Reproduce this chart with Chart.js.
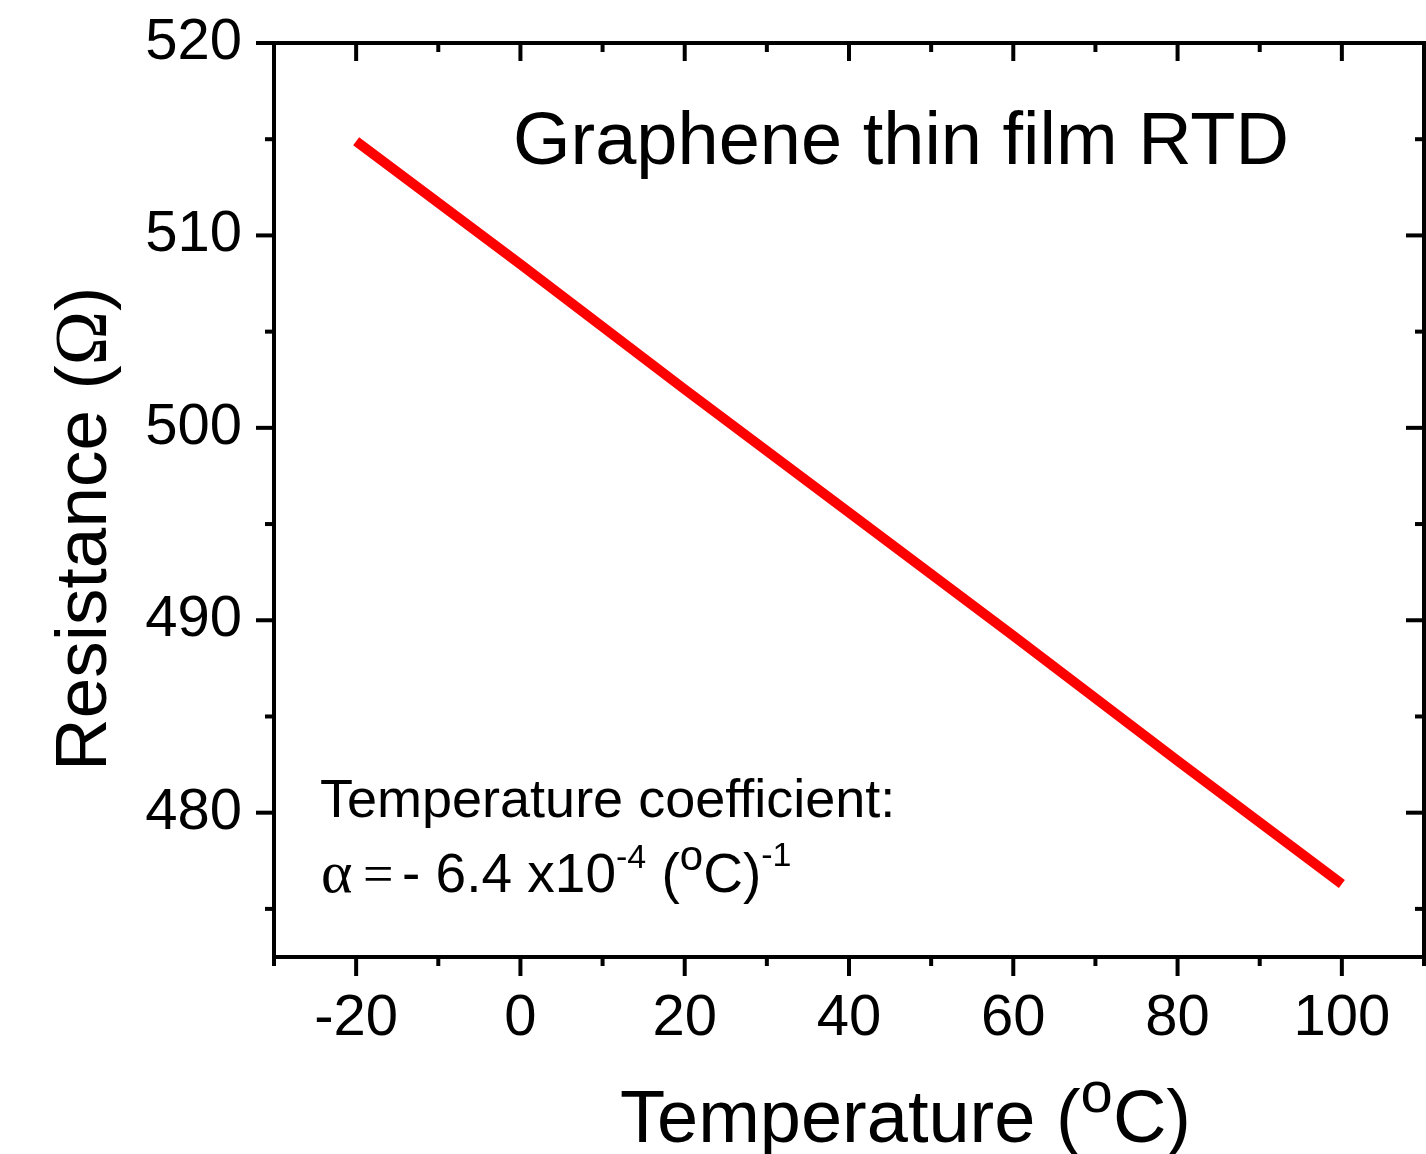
<!DOCTYPE html>
<html>
<head>
<meta charset="utf-8">
<script src="https://cdn.jsdelivr.net/npm/chart.js@4.4.0/dist/chart.umd.min.js"></script>
<style>
  html, body { margin: 0; padding: 0; background: #fff; }
  #wrap { width: 1426px; height: 1154px; }
</style>
</head>
<body>
<div id="wrap"><canvas id="rtdChart"></canvas></div>
<script>
// temperature (°C) vs resistance (Ohm)
const temperature = [-20, 0, 20, 40, 60, 80, 100];
const resistance = [514.9, 508.5, 502.0, 495.6, 489.2, 482.7, 476.3];

const xRange = [-30, 110];
const yRange = [472.5, 520];
const xMajorTicks = [-20, 0, 20, 40, 60, 80, 100];
const xMinorTicks = [-30, -10, 10, 30, 50, 70, 90, 110];
const yMajorTicks = [480, 490, 500, 510, 520];
const yMinorTicks = [475, 485, 495, 505, 515];

const SANS = '"Liberation Sans", Arial, sans-serif';
const SERIF = '"Liberation Serif", "Times New Roman", serif';

// draws a run of text pieces one after another (used for superscripts)
function drawRich(ctx, x, y, parts) {
    parts.forEach(function (p) {
        if (p.at !== undefined) x = p.at;
        ctx.font = p.font;
        ctx.fillText(p.text, x, y - (p.rise || 0));
        x += ctx.measureText(p.text).width;
    });
}

function tick(ctx, x1, y1, x2, y2) {
    ctx.beginPath();
    ctx.moveTo(x1, y1);
    ctx.lineTo(x2, y2);
    ctx.stroke();
}

const framePlugin = {
    id: 'frame',
    afterDraw(chart) {
        const ctx = chart.ctx;
        const a = chart.chartArea;
        const xs = chart.scales.x, ys = chart.scales.y;
        ctx.save();
        ctx.strokeStyle = '#000';
        ctx.lineWidth = 4;
        ctx.strokeRect(a.left, a.top, a.right - a.left, a.bottom - a.top);

        xMajorTicks.forEach(function (v) {
            const px = xs.getPixelForValue(v);
            tick(ctx, px, a.bottom, px, a.bottom + 19);
            tick(ctx, px, a.top, px, a.top + 18);
        });
        xMinorTicks.forEach(function (v) {
            const px = xs.getPixelForValue(v);
            tick(ctx, px, a.bottom, px, a.bottom + 9);
            tick(ctx, px, a.top, px, a.top + 9);
        });
        yMajorTicks.forEach(function (v) {
            const py = ys.getPixelForValue(v);
            tick(ctx, a.left - 18, py, a.left, py);
            tick(ctx, a.right - 18, py, a.right, py);
        });
        yMinorTicks.forEach(function (v) {
            const py = ys.getPixelForValue(v);
            tick(ctx, a.left - 9, py, a.left, py);
            tick(ctx, a.right - 9, py, a.right, py);
        });

        // texts
        ctx.fillStyle = '#000';
        ctx.textAlign = 'left';
        ctx.textBaseline = 'alphabetic';

        ctx.font = '74px ' + SANS;
        ctx.fillText('Graphene thin film RTD', 513, 164);

        ctx.font = '54px ' + SANS;
        ctx.fillText('Temperature coefficient:', 320, 817);

        drawRich(ctx, 321, 892, [
            {text: 'α', font: '60px ' + SERIF},
            {text: '=', font: '54px ' + SERIF, at: 363},
            {text: '- 6.4 x10', font: '55px ' + SANS, at: 402},
            {text: '-4', font: '34px ' + SANS, rise: 24},
            {text: ' (', font: '55px ' + SANS},
            {text: 'o', font: '42px ' + SANS, rise: 22},
            {text: 'C)', font: '55px ' + SANS},
            {text: '-1', font: '34px ' + SANS, rise: 26}
        ]);

        // x axis title
        drawRich(ctx, 620, 1142, [
            {text: 'Temperature (', font: '74px ' + SANS},
            {text: 'o', font: '58px ' + SANS, rise: 30},
            {text: 'C)', font: '74px ' + SANS}
        ]);

        // y axis title
        ctx.translate(106, 771);
        ctx.rotate(-Math.PI / 2);
        drawRich(ctx, 0, 0, [
            {text: 'Resistance (', font: '73px ' + SANS},
            {text: 'Ω', font: '73px ' + SERIF},
            {text: ')', font: '73px ' + SANS}
        ]);
        ctx.restore();
    }
};

new Chart('rtdChart', {
    type: 'line',
    data: {
        datasets: [{
            data: temperature.map(function (t, i) { return {x: t, y: resistance[i]}; }),
            borderColor: '#ff0000',
            borderWidth: 10,
            pointRadius: 0,
            tension: 0,
            fill: false
        }]
    },
    options: {
        responsive: true,
        maintainAspectRatio: false,
        animation: false,
        layout: {padding: {left: 0, right: 2, top: 43, bottom: 0}},
        plugins: {legend: {display: false}, tooltip: {enabled: false}},
        scales: {
            x: {
                type: 'linear',
                min: xRange[0],
                max: xRange[1],
                border: {display: false},
                grid: {display: false, drawTicks: false},
                afterBuildTicks: function (s) { s.ticks = xMajorTicks.map(function (v) { return {value: v}; }); },
                afterFit: function (s) {
                    s.height = 197;
                    s.paddingLeft = 0;
                    s.paddingRight = 0;
                },
                ticks: {
                    font: {family: SANS, size: 58},
                    color: '#000',
                    padding: 27,
                    maxRotation: 0,
                    autoSkip: false,
                    callback: function (v) { return String(v); }
                }
            },
            y: {
                type: 'linear',
                min: yRange[0],
                max: yRange[1],
                border: {display: false},
                grid: {display: false, drawTicks: false},
                afterBuildTicks: function (s) { s.ticks = yMajorTicks.map(function (v) { return {value: v}; }); },
                afterFit: function (s) {
                    s.width = 274;
                    s.paddingTop = 0;
                    s.paddingBottom = 0;
                },
                ticks: {
                    font: {family: SANS, size: 58},
                    color: '#000',
                    padding: 32,
                    autoSkip: false,
                    callback: function (v) { return String(v); }
                }
            }
        }
    },
    plugins: [framePlugin]
});
</script>
</body>
</html>
